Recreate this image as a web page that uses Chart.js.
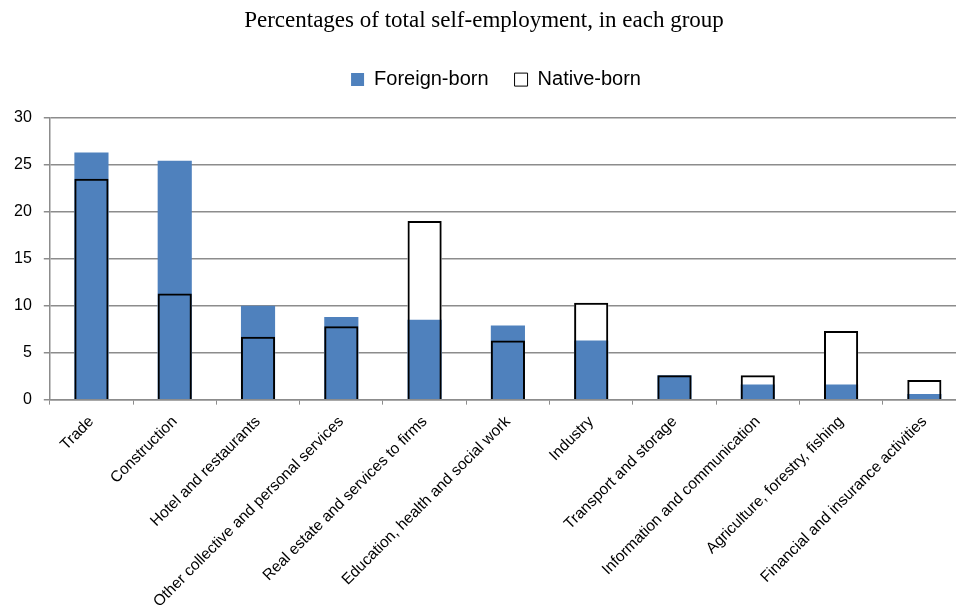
<!DOCTYPE html>
<html>
<head>
<meta charset="utf-8">
<script src="https://cdn.jsdelivr.net/npm/chart.js@4"></script>
<style>
  html, body { margin: 0; padding: 0; background: #fff; overflow: hidden; }
  #wrap { width: 970px; height: 611px; }
</style>
</head>
<body>
<div id="wrap"><canvas id="c" width="970" height="611"></canvas></div>
<script>
const categories = [
  "Trade",
  "Construction",
  "Hotel and restaurants",
  "Other collective and personal services",
  "Real estate and services to firms",
  "Education, health and social work",
  "Industry",
  "Transport and storage",
  "Information and communication",
  "Agriculture, forestry, fishing",
  "Financial and insurance activities"
];
const foreignBorn = [26.3, 25.4, 10.0, 8.8, 8.5, 7.9, 6.3, 2.6, 1.6, 1.6, 0.6];
const nativeBorn  = [23.5, 11.3, 6.7, 7.8, 19.0, 6.3, 10.3, 2.6, 2.6, 7.3, 2.1];
const yTicks = [0, 5, 10, 15, 20, 25, 30];

const BLUE = "#4F81BD";
const GRID = "#8c8c8c";

const legendTweak = {
  id: "legendTweak",
  beforeInit(chart) {
    const fit = chart.legend.fit;
    chart.legend.fit = function () {
      fit.call(this);
      this.height += 18;
    };
  },
  afterLayout(chart) {
    chart.legend.left += 12;
    chart.legend.right += 12;
  }
};

new Chart(document.getElementById("c"), {
  type: "bar",
  data: {
    labels: categories,
    datasets: [
      {
        label: "Native-born",
        data: nativeBorn,
        backgroundColor: "rgba(255,255,255,0)",
        borderColor: "#000",
        borderWidth: 2,
        grouped: false,
        order: 0
      },
      {
        label: "Foreign-born",
        data: foreignBorn,
        backgroundColor: BLUE,
        borderWidth: 0,
        grouped: false,
        order: 1
      },
      {
        label: "_nativeFill",
        data: nativeBorn,
        backgroundColor: "#fff",
        borderWidth: 0,
        grouped: false,
        order: 2
      }
    ]
  },
  plugins: [legendTweak],
  options: {
    responsive: false,
    animation: false,
    events: [],
    layout: { padding: { top: 7, left: 2, right: 4, bottom: 0 } },
    datasets: { bar: { categoryPercentage: 1, barPercentage: 0.41 } },
    plugins: {
      tooltip: { enabled: false },
      title: {
        display: true,
        text: "Percentages of total self-employment, in each group",
        color: "#000",
        font: { family: "'Liberation Serif', 'Times New Roman', serif", size: 23, weight: "normal" },
        padding: { top: 0, bottom: 9 }
      },
      legend: {
        display: true,
        position: "top",
        labels: {
          color: "#000",
          font: { family: "'Liberation Sans', Arial, sans-serif", size: 20 },
          boxWidth: 13,
          boxHeight: 13,
          padding: 26,
          filter: (item) => item.text !== "_nativeFill",
          sort: (a, b) => (a.text === "Foreign-born" ? -1 : (b.text === "Foreign-born" ? 1 : 0)),
          generateLabels: (chart) => {
            const items = Chart.defaults.plugins.legend.labels.generateLabels(chart);
            items.forEach(it => {
              if (it.text === "Native-born") { it.fillStyle = "#fff"; it.strokeStyle = "#000"; it.lineWidth = 1; }
              if (it.text === "Foreign-born") { it.lineWidth = 0; it.strokeStyle = BLUE; }
            });
            return items;
          }
        }
      }
    },
    scales: {
      x: {
        offset: true,
        afterFit: (scale) => { scale.height -= 8; },
        grid: {
          offset: true,
          drawOnChartArea: false,
          drawTicks: true,
          tickLength: 5,
          color: GRID
        },
        border: { display: true, color: GRID, width: 1.5 },
        ticks: {
          color: "#000",
          font: { family: "'Liberation Sans', Arial, sans-serif", size: 15.5 },
          minRotation: 45,
          maxRotation: 45,
          autoSkip: false,
          padding: 8
        }
      },
      y: {
        min: 0,
        max: 30,
        afterBuildTicks: (axis) => { axis.ticks = yTicks.map(v => ({ value: v })); },
        grid: {
          color: GRID,
          lineWidth: 1.5,
          drawTicks: true,
          tickLength: 6
        },
        border: { display: true, color: GRID, width: 1.5 },
        ticks: {
          color: "#000",
          font: { family: "'Liberation Sans', Arial, sans-serif", size: 16 },
          padding: 12
        }
      }
    }
  }
});
</script>
</body>
</html>
